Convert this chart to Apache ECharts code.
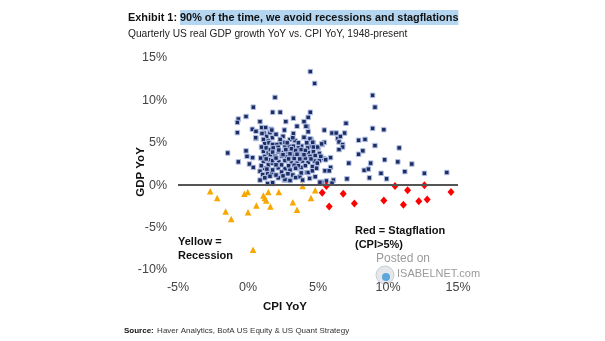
<!DOCTYPE html>
<html>
<head>
<meta charset="utf-8">
<script src="https://cdn.jsdelivr.net/npm/echarts@6/dist/echarts.min.js"></script>
<style>
html,body{margin:0;padding:0;background:#fff;}
#chart{width:605px;height:341px;}
</style>
</head>
<body>
<div id="chart"></div>
<script>
// ---- Data: [CPI YoY %, GDP YoY %] ----
const normalPoints = [
[4.45,13.4],[4.76,12.0],[1.93,10.35],[0.38,9.2],[1.76,8.6],[2.3,8.6],[4.45,8.6],[-0.69,7.8],[-0.76,7.4],[-0.14,8.1],
[0.86,7.5],[2.7,7.5],[3.24,7.9],[4.0,7.5],[4.3,8.0],[-0.76,6.2],[-1.45,3.8],[-0.69,2.75],[-0.14,4.05],[-0.07,3.4],
[0.33,3.25],[0.1,2.5],[0.38,2.1],[0.31,6.6],[0.57,6.35],[0.57,5.5],[0.86,0.6],[1.4,0.2],[1.76,0.2],[2.6,0.6],
[3.0,0.6],[5.45,6.5],[5.45,3.1],[5.6,0.5],[5.2,0.35],[8.9,10.6],[9.07,9.2],[4.24,6.9],[7.0,7.3],[6.0,6.15],
[6.3,6.15],[6.9,6.15],[8.9,6.7],[9.7,6.55],[4.0,5.6],[4.5,5.4],[6.4,5.5],[6.6,5.75],[6.5,5.1],[7.9,5.3],
[8.36,5.4],[9.07,4.67],[10.8,4.4],[6.76,4.8],[6.76,4.5],[6.5,4.2],[8.2,4.05],[7.9,3.65],[4.67,5.0],[4.5,4.6],
[4.7,4.4],[5.0,4.4],[5.3,4.8],[5.45,5.05],[5.1,3.75],[5.9,3.25],[5.4,3.15],[5.55,3.0],[7.2,2.6],[8.76,2.6],
[9.76,3.0],[10.7,2.75],[11.7,2.5],[5.9,2.1],[8.3,1.76],[8.6,1.9],[11.2,1.6],[12.6,1.4],[14.2,1.5],[9.5,1.4],
[5.5,1.7],[5.8,1.7],[7.07,0.75],[8.67,0.87],[9.9,0.75],[6.1,0.6],[6.0,0.24],[5.26,0.35],[3.7,1.0],[3.9,3.8],
[0.98,6.8],[1.26,6.8],[0.55,5.6],[1.14,6.15],[1.33,5.76],[1.57,6.2],[1.74,5.6],[1.1,5.4],[1.45,5.2],[1.2,4.9],
[1.5,5.0],[1.74,4.8],[1.1,4.0],[1.2,3.4],[1.45,3.8],[1.57,3.0],[1.1,2.8],[1.45,2.4],[1.74,2.6],[1.2,2.0],
[1.57,1.6],[0.86,1.65],[1.05,1.26],[1.4,1.34],[1.7,1.46],[1.2,0.87],[1.57,1.06],[0.96,4.5],[1.3,4.4],[1.6,4.2],
[0.9,3.2],[1.3,3.1],[1.6,3.6],[0.95,2.3],[1.35,1.9],[1.0,6.1],[1.65,6.6],
[3.5,6.95],[4.14,6.95],[1.7,6.5],[3.24,6.1],[2.5,5.76],[4.0,5.65],[4.43,5.46],[4.62,5.06],[3.0,5.38],[3.36,5.26],
[2.29,5.0],[2.64,5.06],[2.05,4.8],[1.76,4.8],[3.83,4.6],[4.26,4.4],[4.67,4.5],[4.98,4.5],[5.26,4.87],[1.8,4.4],
[2.16,4.47],[2.64,4.5],[2.95,4.6],[3.24,4.6],[3.6,4.4],
[1.76,3.9],[2.16,3.95],[2.52,3.85],[2.88,3.9],[3.24,3.95],[3.6,3.85],[3.95,3.9],[4.31,3.85],[4.67,3.95],
[1.93,3.4],[2.4,3.45],[2.76,3.35],[3.24,3.4],[3.6,3.45],[3.95,3.35],[4.43,3.4],
[1.76,2.9],[2.2,2.75],[2.64,2.9],[3.1,2.65],[3.5,2.6],[3.9,2.85],[4.3,2.7],[4.75,2.85],[5.1,2.9],[4.95,2.6],
[1.76,1.8],[2.16,2.05],[2.64,1.95],[3.0,1.8],[3.45,1.95],[3.8,2.1],[4.1,2.3],
[3.8,1.45],[4.2,1.5],[4.3,1.5],[2.64,0.67],[3.0,0.55],[2.16,0.87],[1.76,0.3],[5.14,0.35],
[2.0,6.0],[2.3,5.4],[2.0,3.2],[2.9,3.1],[3.3,3.15],[3.7,3.1],[4.1,3.2],[2.4,2.4],[2.9,2.3],[3.3,2.35],
[3.6,2.3],[2.0,2.4],[2.4,1.55],[2.85,1.35],[3.2,1.2],[2.0,1.2],[2.5,1.1],[3.4,0.9],[4.6,2.2],[4.5,3.1],
[2.2,4.15],[2.7,4.2],[3.1,4.3],[3.4,4.1],[3.8,4.2],[4.1,4.1],[2.5,3.6],[3.0,3.7],[3.5,3.65],[4.0,3.6],
[2.8,5.0],[3.6,5.0],[4.2,5.0],[3.2,5.6],[4.3,6.3],[2.6,6.5],[3.4,2.0],[4.6,1.7],[4.9,2.0],[4.8,3.5],
[5.2,3.4],[4.8,1.0],[4.4,0.8],[3.9,0.6]
];
const recessionPoints = [
[-2.7,-0.7],[-2.2,-1.5],[-0.26,-1.0],[-0.02,-0.8],[1.1,-1.2],[1.2,-1.5],[1.3,-1.8],[1.45,-0.8],[2.2,-0.8],[3.9,-0.1],
[4.8,-0.6],[4.5,-1.5],[3.2,-2.0],[3.5,-2.9],[0.6,-2.4],[1.6,-2.5],[-1.6,-3.1],[-1.2,-4.0],[0.0,-3.2],[0.36,-7.6]
];
const stagflationPoints = [
[5.6,-0.1],[5.3,-0.9],[5.8,-2.5],[6.8,-1.0],[7.6,-2.15],[9.7,-1.8],[10.5,-0.1],[11.4,-0.6],[11.1,-2.3],[12.2,-1.9],
[12.6,0.0],[12.8,-1.7],[14.5,-0.8]
];
const xTicks = {min:-5, max:15, interval:5};
const yTicks = {min:-10, max:15, interval:5};

const FONT = "'Liberation Sans',Arial,sans-serif";
const chart = echarts.init(document.getElementById('chart'), null, {renderer:'canvas'});
chart.setOption({
  animation:false,
  backgroundColor:'#fff',
  title:[{
    left:123, top:5,
    text:'{a|Exhibit 1: }{b|90% of the time, we avoid recessions and stagflations}',
    textStyle:{rich:{
      a:{fontFamily:FONT,fontWeight:'bold',fontSize:10.9,color:'#111'},
      b:{fontFamily:FONT,fontWeight:'bold',fontSize:10.9,color:'#111',backgroundColor:'#b5d6f1',padding:[2,0,2,0]}
    }},
    subtext:'Quarterly US real GDP growth YoY vs. CPI YoY, 1948-present',
    subtextStyle:{fontFamily:FONT,fontSize:10.2,color:'#222'},
    itemGap:4
  }],
  grid:{left:178,right:147,top:58,bottom:71},
  xAxis:{type:'value',min:xTicks.min,max:xTicks.max,interval:xTicks.interval,
    axisLine:{show:false},axisTick:{show:false},splitLine:{show:false},
    axisLabel:{formatter:'{value}%',margin:11,fontFamily:FONT,fontSize:12.5,color:'#444'}},
  yAxis:{type:'value',min:yTicks.min,max:yTicks.max,interval:yTicks.interval,
    axisLine:{show:false},axisTick:{show:false},splitLine:{show:false},
    axisLabel:{formatter:'{value}%',margin:11,fontFamily:FONT,fontSize:12.5,color:'#444'}},
  series:[
    {type:'scatter',data:normalPoints,symbol:'rect',symbolSize:4.5,
     itemStyle:{color:'#1b2d63',borderColor:'#b4c1e6',borderWidth:1,opacity:1},
     markLine:{silent:true,symbol:'none',label:{show:false},
       lineStyle:{color:'#555',width:2,type:'solid'},data:[{yAxis:0}]},z:3},
    {type:'scatter',data:recessionPoints,symbol:'triangle',symbolSize:6.5,
     itemStyle:{color:'#f7a700',opacity:1},z:4},
    {type:'scatter',data:stagflationPoints,symbol:'diamond',symbolSize:[7,8],
     itemStyle:{color:'#ff0000',opacity:1},z:4}
  ],
  graphic:[
    {type:'text',x:141,y:172,rotation:Math.PI/2,style:{text:'GDP YoY',fontFamily:FONT,fontWeight:'bold',fontSize:11.5,fill:'#111',align:'center',verticalAlign:'middle'}},
    {type:'text',x:285,y:307,style:{text:'CPI YoY',fontFamily:FONT,fontWeight:'bold',fontSize:11.5,fill:'#111',align:'center',verticalAlign:'middle'}},
    {type:'text',x:178,y:235,style:{text:'Yellow =\nRecession',fontFamily:FONT,fontWeight:'bold',fontSize:11,lineHeight:14,fill:'#111'}},
    {type:'text',x:355,y:224,style:{text:'Red = Stagflation\n(CPI>5%)',fontFamily:FONT,fontWeight:'bold',fontSize:11,lineHeight:14,fill:'#111'}},
    {type:'circle',shape:{cx:385,cy:275,r:9},style:{fill:'#e4e8ec',stroke:'#c8cdd3',lineWidth:1},z:0},
    {type:'circle',shape:{cx:386,cy:277,r:4},style:{fill:'#5aa7dd'},z:0},
    {type:'text',x:376,y:253,style:{text:'Posted on',fontFamily:FONT,fontSize:12,fill:'#9a9a9a'},z:0},
    {type:'text',x:397,y:268,style:{text:'ISABELNET.com',fontFamily:FONT,fontSize:11,fill:'#9a9a9a'},z:0},
    {type:'text',x:124,y:325,style:{text:'{s|Source:} {t|Haver Analytics, BofA US Equity & US Quant Strategy}',rich:{
      s:{fontFamily:FONT,fontWeight:'bold',fontSize:8,fill:'#111'},
      t:{fontFamily:FONT,fontSize:8,fill:'#333'}}}}
  ]
});
</script>
</body>
</html>
